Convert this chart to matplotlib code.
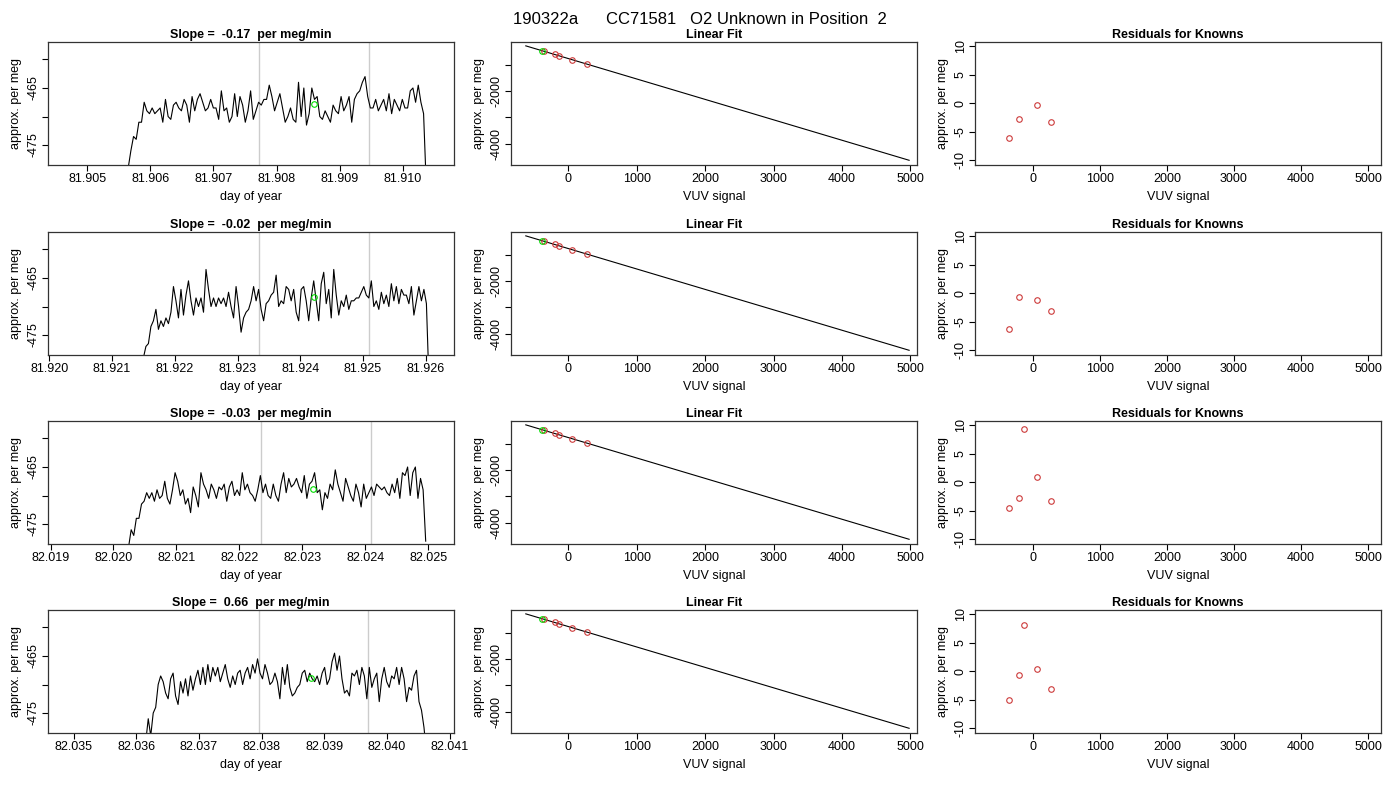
import numpy as np
import matplotlib
matplotlib.use("Agg")
import matplotlib.pyplot as plt

plt.rcParams['font.family'] = ['Liberation Sans', 'DejaVu Sans']

title = "190322a      CC71581   O2 Unknown in Position  2"
slopes = ["-0.17", "-0.02", "-0.03", "0.66"]

# time-series panels: data spans, axis limits, grey lines, green point
ts_start = [81.90565, 81.92150, 82.02024, 82.03615]
ts_end = [81.91037, 81.92605, 82.02496, 82.04063]
ts_xlim = [(81.90438, 81.91081), (81.91998, 81.92645), (82.01896, 82.02541), (82.03459, 82.04107)]
ts_ticks = [[81.905, 81.906, 81.907, 81.908, 81.909, 81.910],
            [81.920, 81.921, 81.922, 81.923, 81.924, 81.925, 81.926],
            [82.019, 82.020, 82.021, 82.022, 82.023, 82.024, 82.025],
            [82.035, 82.036, 82.037, 82.038, 82.039, 82.040, 82.041]]
grey_lines = [(81.90772, 81.90947), (81.92334, 81.92509), (82.02234, 82.02409), (82.03795, 82.03970)]
green_x = [81.90859, 81.92422, 82.023167, 82.03879]
green_y = [-467.8, -468.4, -468.8, -468.8]

ts1 = [-479,-476,-473.5,-474,-471,-471,-467.5,-469,-469.5,-468.5,-469.5,-469,-468.5,-471,-467,-470,-470.5,-468,-467.5,-468.5,
       -469,-467,-468,-471,-466.5,-469,-467,-466,-467.5,-469,-468.5,-467,-468.5,-468.5,-470.5,-465.5,-469,-468.5,-471,-470,
       -466,-470,-466.5,-468,-471,-469,-465.5,-470.5,-469,-467.5,-468,-467,-467,-464.5,-466.5,-469,-467.5,-466,-468.5,-471,
       -470,-468.5,-470.5,-471,-464,-470,-465,-471.5,-469.5,-465,-467,-466.5,-470,-470.5,-469,-470,-471,-468,-469,-469.5,
       -466.5,-469,-468,-466.5,-471,-467,-466,-465.5,-464,-463,-466.5,-468.5,-468.5,-467,-469,-468,-467,-469,-466,-469.5,
       -467,-468,-469,-467,-468.5,-468.5,-465.5,-465,-467.5,-464.5,-467.5,-469.5,-482]
ts2 = [-479,-477,-476.5,-473.5,-472.5,-470.5,-474,-472.5,-473.5,-472,-473,-471,-466.5,-469,-472,-467,-471.5,-468,-465.5,-469,
       -471.5,-468.5,-470,-468.5,-471,-463.5,-467,-470,-468.5,-470,-468.5,-469.5,-468.5,-470,-467.5,-470,-472,-466.5,-470,-474.5,
       -472,-471,-470.5,-469,-466.5,-469,-467,-470.5,-472.5,-469.5,-469,-468,-467.5,-464.5,-470,-469,-469.5,-466.5,-467,-469,
       -467,-471,-472.5,-467,-466.5,-469,-472.5,-468.5,-465.5,-469,-472.5,-466,-464,-469.5,-467,-472,-463.5,-468,-471.5,-469,
       -470,-468,-470.5,-469,-469,-468.5,-468.5,-467.5,-466.5,-468,-468.5,-465.5,-470,-469,-470.5,-467.5,-469.5,-468,-470,-466,
       -469,-466.5,-469.5,-467,-468,-468,-469.5,-466.5,-471.5,-469,-466.5,-469,-467,-469.5,-483]
ts3 = [-479,-476,-477,-474,-474,-471.5,-471,-469.5,-470.5,-469.5,-471,-469,-470.5,-470,-467.5,-470.5,-471.5,-469,-466,-467.5,
       -470,-469,-471.5,-470.5,-473,-468.5,-470,-472,-466,-468,-469,-470.5,-468,-469,-470.5,-468.5,-469,-468,-471,-468.5,
       -467.5,-470,-469,-470,-466,-469,-468,-469.5,-470,-471,-469,-466.5,-469.5,-468,-470,-470.5,-468,-470,-471,-468,
       -466,-469.5,-467,-468.5,-468,-467,-468.5,-469.5,-466.5,-470.5,-468,-467.5,-466,-469.5,-469,-472.5,-469.5,-470.5,-468,-469,
       -465.5,-468,-469.5,-471,-467,-468.5,-470,-471,-468,-469.5,-472,-468,-470.5,-469.5,-468.5,-470,-468,-468.5,-469,-468.5,
       -469.5,-470,-468,-469.5,-467,-470.5,-466,-466.5,-465,-470,-466,-465,-470.5,-467,-469,-478]
ts4 = [-480,-476,-479,-475,-474,-470,-468.5,-469.5,-471.5,-472.5,-469,-468,-472,-473.5,-469.5,-471.5,-469,-472,-468.5,-471,
       -469,-467.5,-470,-467,-470,-466.5,-469.5,-467,-468.5,-467,-469.5,-468,-466.5,-469,-470.5,-468.5,-470,-468,-467.5,-470,
       -468,-467,-469,-466.5,-468,-465.5,-468,-469,-466.5,-468,-470,-469.5,-468,-469.5,-472.5,-467,-470,-466.5,-470.5,-472,
       -471.5,-470.5,-470,-468,-467.5,-469.5,-468,-469,-469.5,-468.5,-470,-468,-467,-470,-469,-466,-464.5,-467.5,-465,-469,
       -471.5,-471,-472,-468,-468.5,-467.5,-470,-467,-468.5,-472.5,-467,-470.5,-469,-468,-473,-469,-467,-469.5,-470.5,-468.5,
       -469,-467,-470,-467,-469,-473,-470.5,-471,-468.5,-467.5,-473,-474.5,-477.5,-482]
ts_values = [ts1, ts2, ts3, ts4]

# linear fit panels
fit_line_x = [-620, 4980]
fit_line_y = [-270, -4640]
std_x = [-350, -200, -130, 60, 280]
std_y = [-480, -600, -650, -800, -970]
unk_x = -390
unk_y = -450

# residuals
resid = [[-6.0, -2.7, None, -0.2, -3.3],
         [-6.3, -0.7, None, -1.2, -3.0],
         [-4.5, -2.7, 9.3, 1.0, -3.3],
         [-5.0, -0.7, 8.2, 0.4, -3.1]]

fig = plt.figure(figsize=(14, 8), dpi=100)
fig.text(0.5, 0.985, title, ha='center', va='top', fontsize=12)

row_bottoms = [0.79375, 0.55625, 0.32, 0.08375]
col_lefts = [0.0343, 0.365, 0.6964]
w, h = 0.29, 0.154
red = '#cd3b3b'

def style(ax):
    ax.tick_params(direction='out', length=4, labelsize=9, pad=2)
    for s in ax.spines.values():
        s.set_linewidth(0.9)
        s.set_color('#333333')

for r in range(4):
    # time series
    ax = fig.add_axes([col_lefts[0], row_bottoms[r], w, h])
    x = np.linspace(ts_start[r], ts_end[r], len(ts_values[r]))
    for g in grey_lines[r]:
        ax.axvline(g, color='#cccccc', lw=1)
    ax.plot(x, ts_values[r], color='black', lw=0.8)
    ax.plot(green_x[r], green_y[r], 'o', mfc='none', mec='#00dd00', ms=4, mew=0.8)
    ax.set_xlim(*ts_xlim[r])
    ax.set_ylim(-478.5, -456.9)
    ax.set_xticks(ts_ticks[r])
    ax.set_xticklabels([f"{t:.3f}" for t in ts_ticks[r]])
    ax.set_yticks([-460, -465, -470, -475])
    ax.set_yticklabels(['', '-465', '', '-475'], rotation=90, va='center')
    ax.set_xlabel('day of year', fontsize=9)
    ax.set_ylabel('approx. per meg', fontsize=9)
    ax.set_title(f"Slope =  {slopes[r]}  per meg/min", fontsize=9, fontweight='bold', pad=3)
    style(ax)

    # linear fit
    ax = fig.add_axes([col_lefts[1], row_bottoms[r], w, h])
    ax.plot(fit_line_x, fit_line_y, color='black', lw=0.8)
    ax.plot(std_x, std_y, 'o', mfc='none', mec=red, ms=4, mew=0.8)
    ax.plot(unk_x, unk_y, 'o', mfc='none', mec='#00dd00', ms=4, mew=0.8)
    ax.set_xlim(-836, 5095)
    ax.set_ylim(-4820, -115)
    ax.set_xticks([0, 1000, 2000, 3000, 4000, 5000])
    ax.set_yticks([-1000, -2000, -3000, -4000])
    ax.set_yticklabels(['', '-2000', '', '-4000'], rotation=90, va='center')
    ax.set_xlabel('VUV signal', fontsize=9)
    ax.set_ylabel('approx. per meg', fontsize=9)
    ax.set_title("Linear Fit", fontsize=9, fontweight='bold', pad=3)
    style(ax)

    # residuals
    ax = fig.add_axes([col_lefts[2], row_bottoms[r], w, h])
    rx = [xx for xx, yy in zip(std_x, resid[r]) if yy is not None]
    ry = [yy for yy in resid[r] if yy is not None]
    ax.plot(rx, ry, 'o', mfc='none', mec=red, ms=4, mew=0.8)
    ax.set_xlim(-860, 5190)
    ax.set_ylim(-10.8, 10.8)
    ax.set_xticks([0, 1000, 2000, 3000, 4000, 5000])
    ax.set_yticks([-10, -5, 0, 5, 10])
    ax.set_yticklabels(['-10', '-5', '0', '5', '10'], rotation=90, va='center')
    ax.set_xlabel('VUV signal', fontsize=9)
    ax.set_ylabel('approx. per meg', fontsize=9)
    ax.set_title("Residuals for Knowns", fontsize=9, fontweight='bold', pad=3)
    style(ax)

fig.savefig('out.png', dpi=100)
